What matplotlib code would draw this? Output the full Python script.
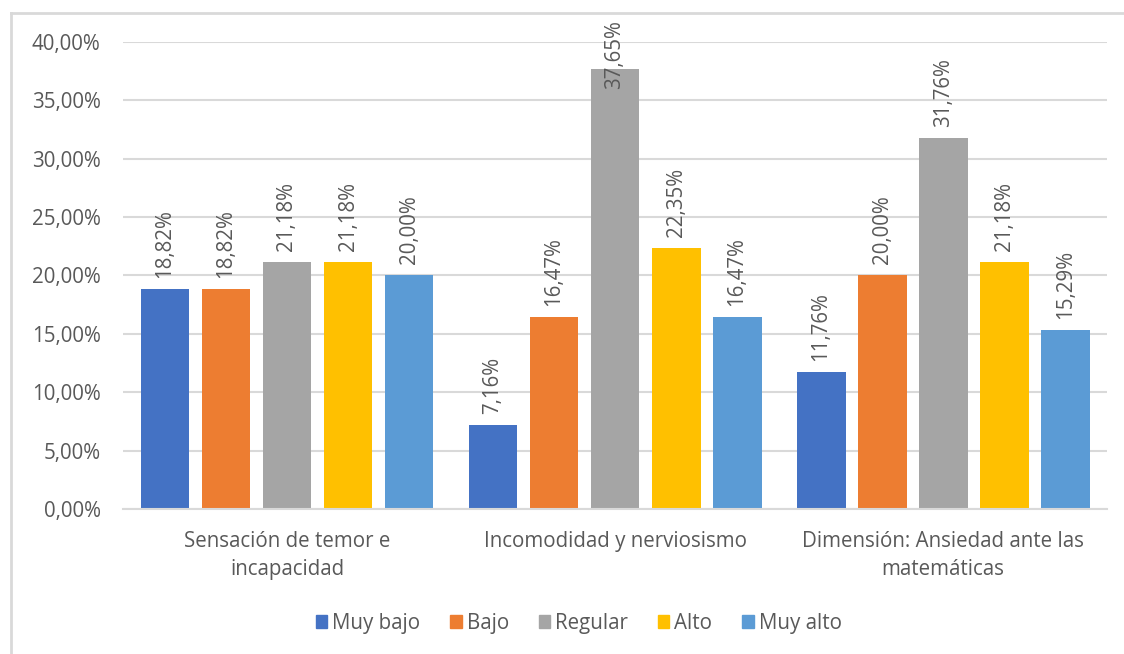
import numpy as np
import matplotlib.pyplot as plt
from matplotlib.lines import Line2D

# Datos por dimensión y nivel
dimensiones = ['Sensación de temor e\nincapacidad',
               'Incomodidad y nerviosismo',
               'Dimensión: Ansiedad ante las\nmatemáticas']
niveles = ['Muy bajo', 'Bajo', 'Regular', 'Alto', 'Muy alto']
muy_bajo = [18.82, 7.16, 11.76]
bajo = [18.82, 16.47, 20.00]
regular = [21.18, 37.65, 31.76]
alto = [21.18, 22.35, 21.18]
muy_alto = [20.00, 16.47, 15.29]
colores = ['#4472C4', '#ED7D31', '#A5A5A5', '#FFC000', '#5B9BD5']

series = [muy_bajo, bajo, regular, alto, muy_alto]

plt.rcParams['font.family'] = ['Open Sans', 'DejaVu Sans']
gris = '#595959'

fig = plt.figure(figsize=(11.24, 6.54), dpi=100)
ax = fig.add_axes([0.1094, 0.2217, 0.8756, 0.7141])

x = np.arange(len(dimensiones))
paso = 0.186
ancho = 0.149
fs = 14.8

etiquetas = []
for i, (vals, nombre, c) in enumerate(zip(series, niveles, colores)):
    pos = x + (i - 2) * paso
    ax.bar(pos, vals, width=ancho, color=c, label=nombre, zorder=2)
    for xp, v in zip(pos, vals):
        t = ax.annotate(f'{v:.2f}%'.replace('.', ','), (xp, v),
                        xytext=(0, 8), textcoords='offset points',
                        rotation=90, ha='center', va='bottom',
                        fontsize=fs, color=gris, zorder=3)
        etiquetas.append(t)

ax.set_xlim(-0.5, 2.5)
ax.set_ylim(0, 40)
ax.set_yticks(np.arange(0, 41, 5))
ax.set_yticklabels([f'{v:.2f}%'.replace('.', ',') for v in np.arange(0, 41, 5)])
ax.set_xticks(x)
ax.set_xticklabels(dimensiones, linespacing=1.45)
ax.tick_params(axis='both', length=0, labelsize=fs, colors=gris)
ax.tick_params(axis='y', pad=16)
ax.tick_params(axis='x', pad=16)
ax.grid(axis='y', color='#D9D9D9', linewidth=1.5, zorder=0)
for s in ['top', 'right', 'left']:
    ax.spines[s].set_visible(False)
ax.spines['bottom'].set_color('#D9D9D9')
ax.spines['bottom'].set_linewidth(1.5)

# Etiquetas que se salen por arriba se bajan dentro del área
fig.canvas.draw()
r = fig.canvas.get_renderer()
limite = fig.bbox.height - 20
for t in etiquetas:
    bb = t.get_window_extent(r)
    if bb.y1 > limite:
        dy = (bb.y1 - limite) * 72 / fig.dpi
        t.set_position((0, 8 - dy))

handles = [plt.Rectangle((0, 0), 1, 1, color=c) for c in colores]
fig.legend(handles, niveles, loc='center', bbox_to_anchor=(0.515, 0.047),
           ncol=5, frameon=False, fontsize=fs, labelcolor=gris,
           handlelength=0.55, handleheight=0.55, handletextpad=0.25,
           columnspacing=1.45)

# Marco del gráfico
fig.add_artist(Line2D([0.0098, 0.0098], [0, 0.98], color='#D9D9D9', lw=2,
                      transform=fig.transFigure))
fig.add_artist(Line2D([0.0098, 1], [0.98, 0.98], color='#D9D9D9', lw=2,
                      transform=fig.transFigure))

fig.savefig('out.png', dpi=100, facecolor='white')
